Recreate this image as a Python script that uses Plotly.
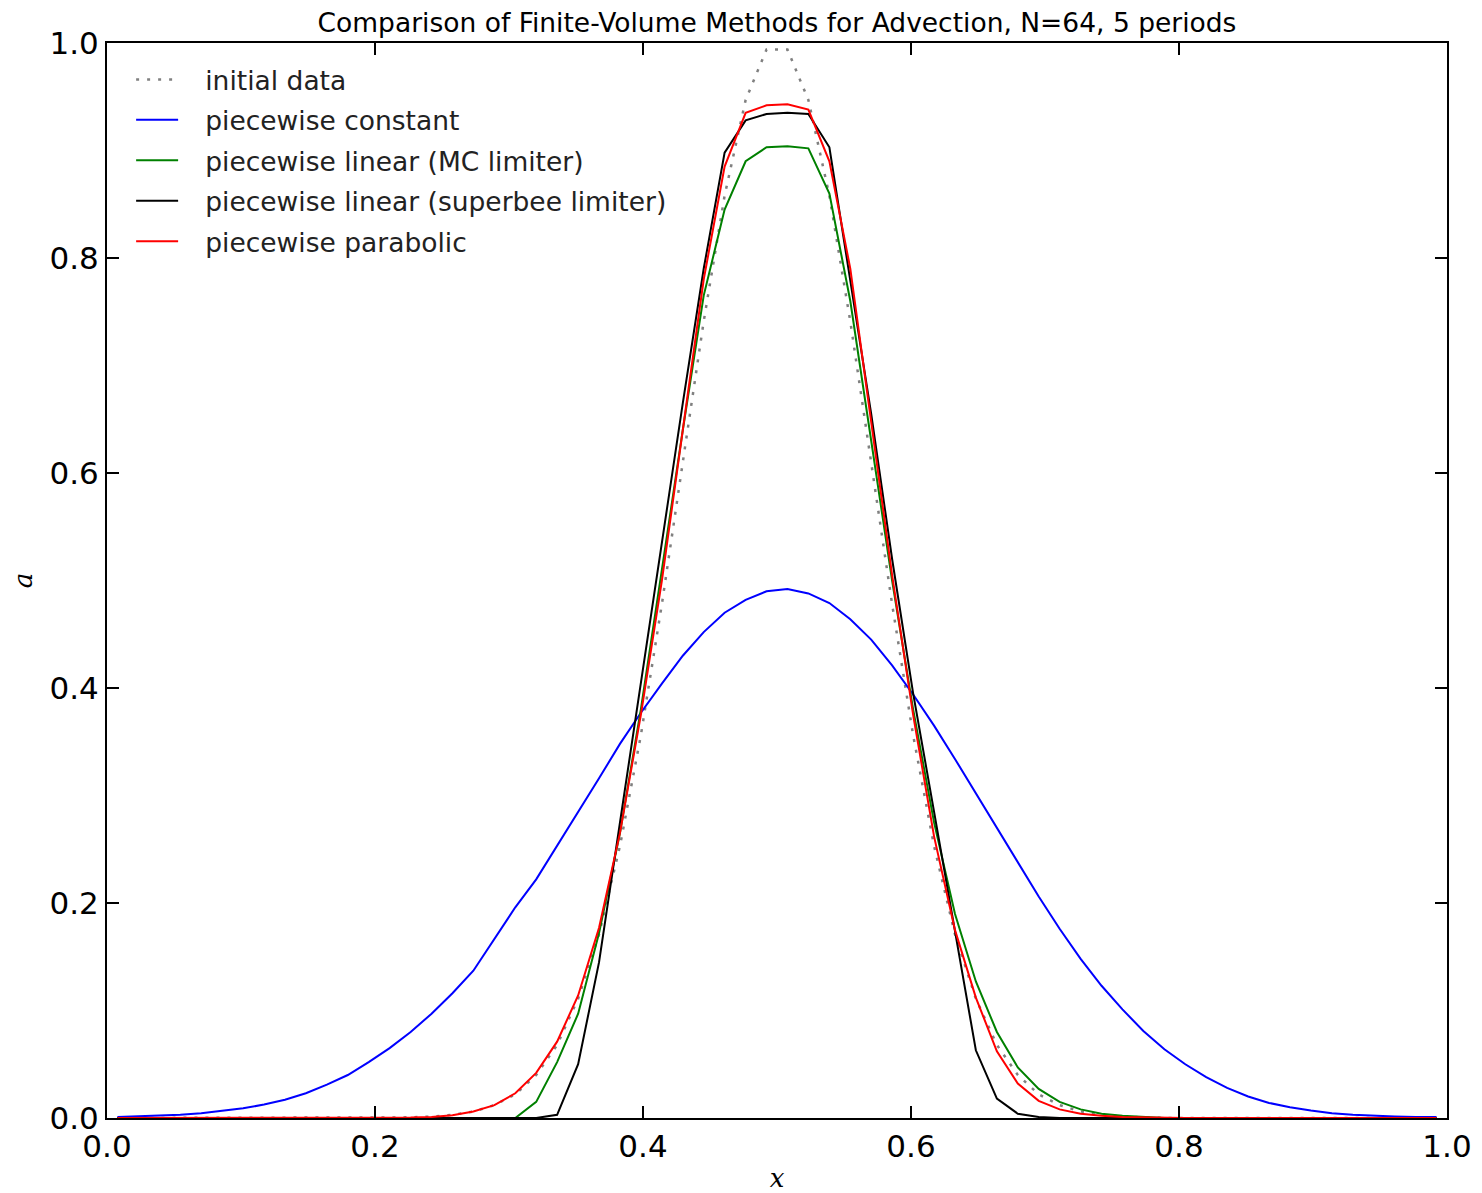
import plotly.graph_objects as go

# cell centres, N = 64
x_centers = [
    0.0078, 0.0234, 0.0391, 0.0547, 0.0703, 0.0859, 0.1016, 0.1172,
    0.1328, 0.1484, 0.1641, 0.1797, 0.1953, 0.2109, 0.2266, 0.2422,
    0.2578, 0.2734, 0.2891, 0.3047, 0.3203, 0.3359, 0.3516, 0.3672,
    0.3828, 0.3984, 0.4141, 0.4297, 0.4453, 0.4609, 0.4766, 0.4922,
    0.5078, 0.5234, 0.5391, 0.5547, 0.5703, 0.5859, 0.6016, 0.6172,
    0.6328, 0.6484, 0.6641, 0.6797, 0.6953, 0.7109, 0.7266, 0.7422,
    0.7578, 0.7734, 0.7891, 0.8047, 0.8203, 0.8359, 0.8516, 0.8672,
    0.8828, 0.8984, 0.9141, 0.9297, 0.9453, 0.9609, 0.9766, 0.9922,
]

initial_data = [
    0, 0, 0, 0, 0, 0, 0, 0,
    0, 0, 0, 0, 0, 0, 0.0006, 0.0013,
    0.003, 0.006, 0.012, 0.022, 0.040, 0.068, 0.111, 0.171,
    0.253, 0.356, 0.478, 0.610, 0.741, 0.858, 0.947, 0.994,
    0.994, 0.947, 0.858, 0.741, 0.610, 0.478, 0.356, 0.253,
    0.171, 0.111, 0.068, 0.040, 0.022, 0.012, 0.006, 0.003,
    0.0013, 0.0006, 0, 0, 0, 0, 0, 0,
    0, 0, 0, 0, 0, 0, 0, 0,
]

pw_constant = [
    0.001, 0.0015, 0.002, 0.003, 0.0045, 0.0065, 0.009, 0.0125,
    0.017, 0.023, 0.031, 0.040, 0.052, 0.065, 0.080, 0.097,
    0.116, 0.137, 0.166, 0.196, 0.222, 0.253, 0.284, 0.316,
    0.348, 0.377, 0.404, 0.430, 0.452, 0.470, 0.482, 0.490,
    0.492, 0.488, 0.479, 0.464, 0.445, 0.421, 0.394, 0.365,
    0.334, 0.302, 0.269, 0.237, 0.206, 0.176, 0.148, 0.123,
    0.101, 0.081, 0.064, 0.050, 0.038, 0.028, 0.020, 0.014,
    0.010, 0.007, 0.0045, 0.003, 0.002, 0.0015, 0.001, 0.001,
]

pw_linear_mc = [
    0, 0, 0, 0, 0, 0, 0, 0,
    0, 0, 0, 0, 0, 0, 0, 0,
    0, 0, 0, 0, 0.015, 0.052, 0.097, 0.172,
    0.265, 0.380, 0.510, 0.640, 0.765, 0.845, 0.890, 0.903,
    0.904, 0.902, 0.860, 0.760, 0.630, 0.500, 0.380, 0.275,
    0.190, 0.127, 0.080, 0.047, 0.027, 0.015, 0.008, 0.004,
    0.002, 0.001, 0, 0, 0, 0, 0, 0,
    0, 0, 0, 0, 0, 0, 0, 0,
]

pw_linear_superbee = [
    0, 0, 0, 0, 0, 0, 0, 0,
    0, 0, 0, 0, 0, 0, 0, 0,
    0, 0, 0, 0, 0, 0.003, 0.050, 0.145,
    0.275, 0.405, 0.535, 0.665, 0.790, 0.898, 0.928, 0.934,
    0.935, 0.934, 0.903, 0.780, 0.655, 0.520, 0.395, 0.285,
    0.175, 0.063, 0.018, 0.004, 0.001, 0, 0, 0,
    0, 0, 0, 0, 0, 0, 0, 0,
    0, 0, 0, 0, 0, 0, 0, 0,
]

pw_parabolic = [
    0, 0, 0, 0, 0, 0, 0, 0,
    0, 0, 0, 0, 0, 0, 0.0005, 0.001,
    0.0025, 0.006, 0.012, 0.023, 0.042, 0.071, 0.114, 0.177,
    0.265, 0.375, 0.500, 0.640, 0.780, 0.885, 0.935, 0.942,
    0.943, 0.938, 0.890, 0.790, 0.645, 0.505, 0.375, 0.262,
    0.175, 0.112, 0.062, 0.032, 0.016, 0.008, 0.004, 0.002,
    0.001, 0.0005, 0, 0, 0, 0, 0, 0,
    0, 0, 0, 0, 0, 0, 0, 0,
]

tick_vals = [0.0, 0.2, 0.4, 0.6, 0.8, 1.0]
tick_text = ["0.0", "0.2", "0.4", "0.6", "0.8", "1.0"]

series = [
    ("initial data", initial_data, "#808080", "3px,8px", 2.5),
    ("piecewise constant", pw_constant, "#0000ff", "solid", 2),
    ("piecewise linear (MC limiter)", pw_linear_mc, "#008000", "solid", 2),
    ("piecewise linear (superbee limiter)", pw_linear_superbee, "#000000", "solid", 2),
    ("piecewise parabolic", pw_parabolic, "#ff0000", "solid", 2),
]

fig = go.Figure()
for name, vals, color, dash, lw in series:
    fig.add_trace(
        go.Scatter(
            x=x_centers,
            y=vals,
            mode="lines",
            name="&nbsp;&nbsp;&#8201;" + name,  # wider gap between sample and label
            legendgroup=name,
            line=dict(color=color, width=lw, dash=dash),
        )
    )

axis_common = dict(
    range=[0, 1],
    tickvals=tick_vals,
    ticktext=tick_text,
    ticks="inside",
    ticklen=12,
    tickwidth=1.5,
    tickcolor="black",
    showline=True,
    linecolor="black",
    linewidth=2,
    mirror="ticks",
    showgrid=False,
    zeroline=False,
    automargin=False,
    tickfont=dict(family="DejaVu Sans", size=31, color="black"),
)

# page body has an 8px margin, so the figure is 8px smaller than the window
W, H = 1474, 1185

fig.update_layout(
    width=W,
    height=H,
    margin=dict(l=99, r=35, t=35, b=75),
    plot_bgcolor="white",
    paper_bgcolor="white",
    title=dict(
        text="Comparison of Finite-Volume Methods for Advection, N=64, 5 periods",
        x=769 / W, xanchor="center",
        y=1 - 15 / H, yanchor="middle",
        font=dict(family="DejaVu Sans", size=26.5, color="black"),
    ),
    xaxis=dict(
        axis_common,
        title=dict(text="<i>x</i>", standoff=10,
                   font=dict(family="DejaVu Serif", size=26, color="black")),
    ),
    yaxis=dict(
        axis_common,
        title=dict(text="<i>a</i>", standoff=17,
                   font=dict(family="DejaVu Serif", size=26, color="black")),
    ),
    legend=dict(
        x=0.018, y=0.9882,
        xanchor="left", yanchor="top",
        bgcolor="rgba(0,0,0,0)",
        borderwidth=0,
        traceorder="grouped",
        tracegroupgap=3,
        itemwidth=42,
        font=dict(family="DejaVu Sans", size=26.5, color="#222222"),
    ),
    showlegend=True,
)

fig.write_html("out.html")
